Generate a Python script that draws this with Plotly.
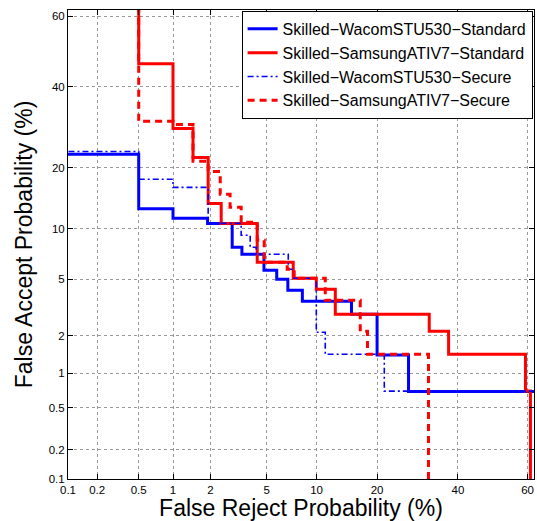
import plotly.graph_objects as go
from statistics import NormalDist

_nd = NormalDist()


def z(p):
    return _nd.inv_cdf(p / 100.0)


# Tick values (percent)
tick_vals = [0.1, 0.2, 0.5, 1, 2, 5, 10, 20, 40, 60]
tick_text = ["0.1", "0.2", "0.5", "1", "2", "5", "10", "20", "40", "60"]

# DET operating points (FRR %, FAR %), staircase drawn vertical-then-horizontal
wacom_std_frr = [0.05, 0.5, 1.0, 1.9, 2.9, 3.4, 4.8, 5.8, 6.8, 8.3, 15.2, 20.0, 27.0, 99]
wacom_std_far = [22.9, 22.9, 12.8, 11.4, 10.7, 7.85, 7.14, 5.69, 4.99, 4.22, 3.55, 2.88, 1.41, 0.70]

samsung_std_frr = [0.5, 1.0, 1.46, 1.92, 2.41, 4.33, 7.33, 9.96, 12.6, 32.2, 37.4, 59.4, 60.8, 60.8]
samsung_std_far = [99, 46.5, 28.9, 22.2, 13.6, 10.7, 6.38, 5.06, 4.29, 2.88, 2.16, 1.43, 0.705, 0.01]

wacom_sec_frr = [0.05, 0.5, 1.0, 1.92, 3.36, 3.88, 4.26, 6.84, 7.43, 9.96, 11.15, 21.5, 99]
wacom_sec_far = [23.5, 23.5, 17.8, 16.3, 10.7, 9.2, 7.85, 7.14, 5.77, 5.06, 2.12, 1.43, 0.705]

samsung_sec_frr = [0.5, 1.0, 1.46, 1.92, 2.37, 2.8, 3.36, 4.33, 4.82, 6.74, 7.43, 11.15, 16.75, 18.1, 32.0, 32.0]
samsung_sec_far = [99, 30.7, 29.9, 21.4, 19.3, 15.1, 13.0, 10.85, 8.63, 6.38, 5.77, 5.06, 3.61, 2.16, 1.43, 0.01]

series = [
    ("Skilled\u2212WacomSTU530\u2212Standard", wacom_std_frr, wacom_std_far,
     dict(color="#0000ff", width=3, dash="solid")),
    ("Skilled\u2212SamsungATIV7\u2212Standard", samsung_std_frr, samsung_std_far,
     dict(color="#ff0000", width=3, dash="solid")),
    ("Skilled\u2212WacomSTU530\u2212Secure", wacom_sec_frr, wacom_sec_far,
     dict(color="#0000ff", width=1.6, dash="6px,3px,2px,3px")),
    ("Skilled\u2212SamsungATIV7\u2212Secure", samsung_sec_frr, samsung_sec_far,
     dict(color="#ff0000", width=3, dash="7px,5px")),
]

fig = go.Figure()
for name, fx, fy, ln in series:
    fig.add_trace(go.Scatter(
        x=[z(v) for v in fx], y=[z(v) for v in fy], mode="lines", name=name,
        line=dict(shape="vh", **ln),
    ))

rng = [z(0.1), 0.30]
axis_common = dict(
    range=rng,
    tickmode="array",
    tickvals=[z(v) for v in tick_vals],
    ticktext=tick_text,
    showgrid=True,
    gridcolor="#9a9a9a",
    griddash="dot",
    gridwidth=1,
    zeroline=False,
    showline=True,
    linecolor="black",
    linewidth=1,
    mirror="ticks",
    ticks="inside",
    ticklen=5,
    tickcolor="black",
    tickfont=dict(family="Liberation Sans, Arial, sans-serif", size=11.5, color="black"),
)

fig.update_xaxes(**axis_common,
                 title=dict(text="False Reject Probability (%)", standoff=3,
                            font=dict(family="Liberation Sans, Arial, sans-serif", size=23, color="black")))
fig.update_yaxes(**axis_common,
                 title=dict(text="False Accept Probability (%)", standoff=9,
                            font=dict(family="Liberation Sans, Arial, sans-serif", size=23, color="black")))

fig.update_layout(
    width=537, height=521,
    margin=dict(l=68, r=3, t=10, b=42),
    paper_bgcolor="white", plot_bgcolor="white",
    showlegend=True,
    legend=dict(
        x=0.997, y=0.998, xanchor="right", yanchor="top",
        bgcolor="white", bordercolor="black", borderwidth=1,
        font=dict(family="Liberation Sans, Arial, sans-serif", size=16, color="black"),
        tracegroupgap=0,
    ),
)

fig.write_html("out.html")
